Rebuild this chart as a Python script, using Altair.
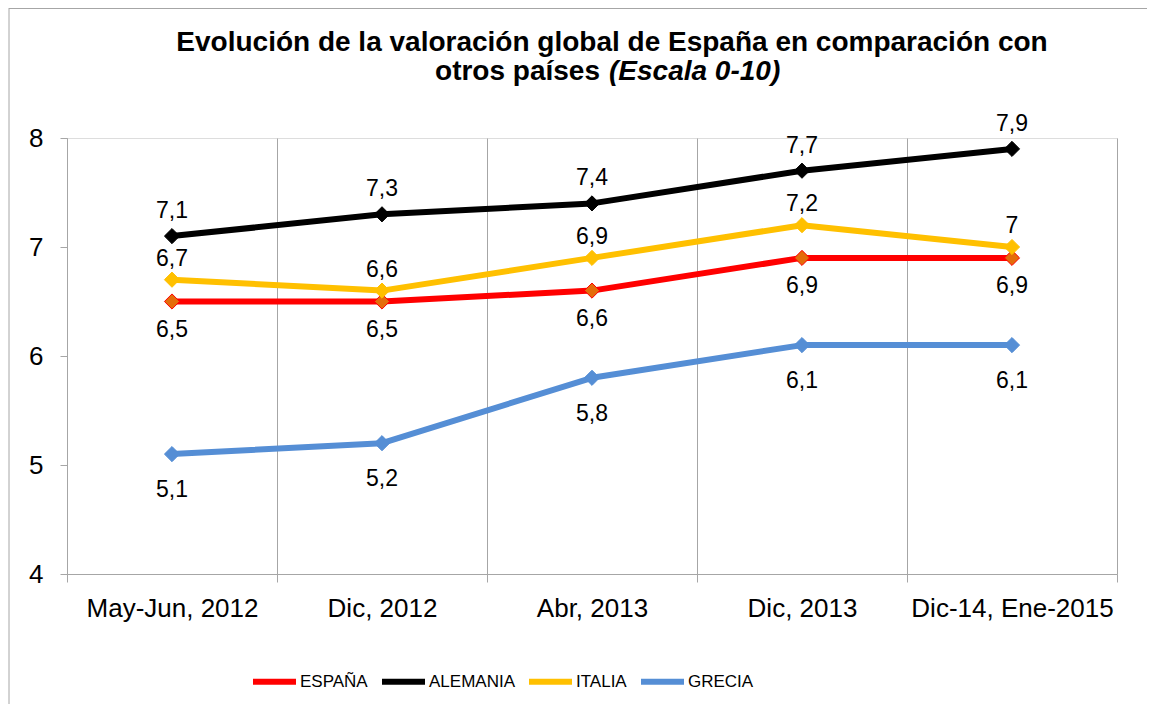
import altair as alt
import pandas as pd

categories = ["May-Jun, 2012", "Dic, 2012", "Abr, 2013", "Dic, 2013", "Dic-14, Ene-2015"]
series = ["ESPAÑA", "ALEMANIA", "ITALIA", "GRECIA"]
espana = [6.5, 6.5, 6.6, 6.9, 6.9]
alemania = [7.1, 7.3, 7.4, 7.7, 7.9]
italia = [6.7, 6.6, 6.9, 7.2, 7.0]
grecia = [5.1, 5.2, 5.8, 6.1, 6.1]
y_ticks = [4, 5, 6, 7, 8]

line_colors = ["#FF0000", "#000000", "#FFC000", "#558ED5"]
marker_fill = ["#E46C0A", "#000000", "#FFC000", "#558ED5"]
label_dy = {"ESPAÑA": 28, "ALEMANIA": -25, "ITALIA": -21, "GRECIA": 36}

rows = []
for name, vals in zip(series, [espana, alemania, italia, grecia]):
    for c, v in zip(categories, vals):
        rows.append({"periodo": c, "serie": name, "valor": v,
                     "etiqueta": f"{v:g}".replace(".", ",")})
df = pd.DataFrame(rows)

FONT = "Liberation Sans"
GRAY = "#A6A6A6"

x_enc = alt.X("periodo:N", sort=categories,
              scale=alt.Scale(paddingInner=0, paddingOuter=0),
              axis=alt.Axis(title=None, labelAngle=0, labelFontSize=26, labelFont=FONT,
                            labelColor="#000000", tickBand="extent", grid=True, labelLimit=0,
                            gridColor=GRAY, gridWidth=1, domainColor=GRAY, tickColor=GRAY,
                            tickSize=8, labelPadding=13))
y_enc = alt.Y("valor:Q", scale=alt.Scale(domain=[4, 8], nice=False, zero=False),
              axis=alt.Axis(title=None, values=y_ticks, format="d", grid=False, labelFontSize=26,
                            labelFont=FONT, labelColor="#000000", domainColor=GRAY,
                            tickColor=GRAY, tickSize=7, labelPadding=17))

base = alt.Chart(df)

lines = base.mark_line(strokeWidth=6, strokeCap="round", strokeJoin="round").encode(
    x=x_enc, y=y_enc,
    color=alt.Color("serie:N", sort=series,
                    scale=alt.Scale(domain=series, range=line_colors),
                    legend=alt.Legend(title=None, orient="none", legendX=183, legendY=519,
                                      direction="horizontal", columns=4,
                                      symbolType="stroke", symbolStrokeWidth=6,
                                      symbolSize=1849, labelFontSize=17, labelFont=FONT,
                                      labelColor="#000000", labelOffset=1,
                                      columnPadding=2)),
    detail="serie:N",
)

points = base.mark_point(shape="diamond", filled=True, size=230, opacity=1, strokeWidth=1).encode(
    x=alt.X("periodo:N", sort=categories),
    y="valor:Q",
    fill=alt.Fill("serie:N", scale=alt.Scale(domain=series, range=marker_fill), legend=None),
    stroke=alt.Stroke("serie:N", scale=alt.Scale(domain=series, range=line_colors), legend=None),
)

labels = []
for name in series:
    labels.append(
        base.transform_filter(alt.datum.serie == name)
        .mark_text(fontSize=23, font=FONT, color="#000000", dy=label_dy[name])
        .encode(x=alt.X("periodo:N", sort=categories), y="valor:Q", text="etiqueta:N")
    )

title1 = alt.Chart(pd.DataFrame({"t": ["Evolución de la valoración global de España en comparación con"]})).mark_text(
    fontSize=28, font=FONT, fontWeight="bold", align="center", baseline="alphabetic", color="#000000"
).encode(x=alt.value(545), y=alt.value(-87), text="t:N")
title2a = alt.Chart(pd.DataFrame({"t": ["otros países"]})).mark_text(
    fontSize=28, font=FONT, fontWeight="bold", align="right", baseline="alphabetic", color="#000000"
).encode(x=alt.value(533), y=alt.value(-58), text="t:N")
title2b = alt.Chart(pd.DataFrame({"t": ["(Escala 0-10)"]})).mark_text(
    fontSize=28, font=FONT, fontWeight="bold", fontStyle="italic", align="left",
    baseline="alphabetic", color="#000000"
).encode(x=alt.value(542), y=alt.value(-58), text="t:N")

border_left = alt.Chart(pd.DataFrame({"a": [0]})).mark_rule(color=GRAY, strokeWidth=1).encode(
    x=alt.value(-58), y=alt.value(-130), y2=alt.value(700))
border_top = alt.Chart(pd.DataFrame({"a": [0]})).mark_rule(color=GRAY, strokeWidth=1).encode(
    y=alt.value(-129.5), x=alt.value(-58), x2=alt.value(1200))

chart = alt.layer(border_left, border_top, lines, points, *labels, title1, title2a, title2b).properties(
    width=1050, height=436,
    autosize=alt.AutoSizeParams(type="none"),
    padding={"left": 59, "top": 130, "right": 30, "bottom": 130},
).configure_view(stroke=None).configure(background="#FFFFFF")

chart.save("out.html", embed_options={"renderer": "svg", "actions": False})
